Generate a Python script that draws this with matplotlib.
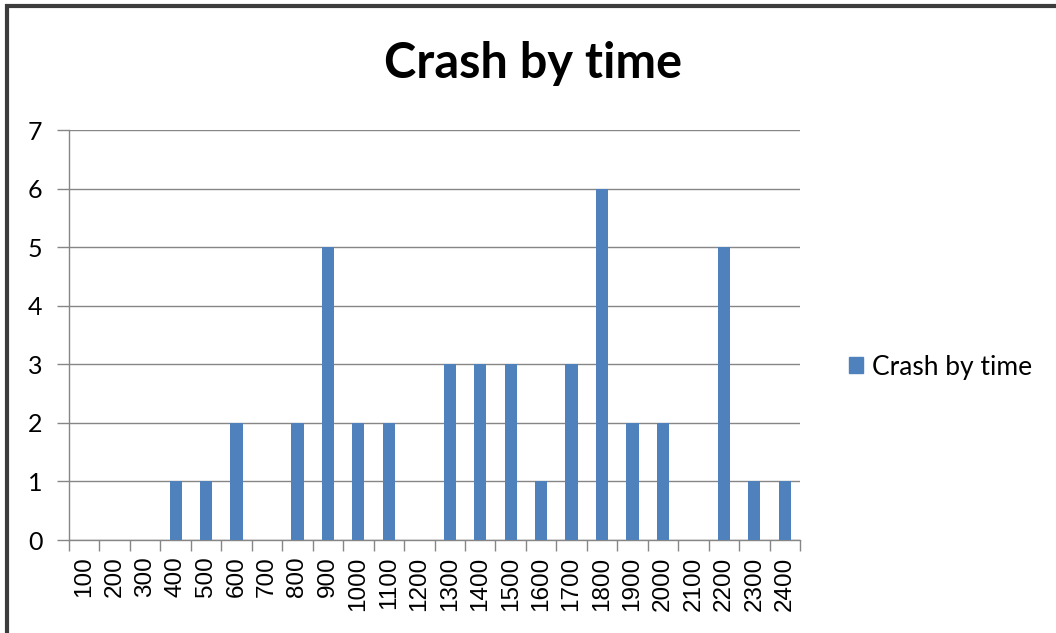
import matplotlib
matplotlib.use('Agg')
import matplotlib.pyplot as plt
from matplotlib.patches import Rectangle
import numpy as np

plt.rcParams['font.family'] = ['Lato', 'DejaVu Sans']

# Crash counts by hour of day
times = ['100', '200', '300', '400', '500', '600', '700', '800', '900', '1000',
         '1100', '1200', '1300', '1400', '1500', '1600', '1700', '1800', '1900',
         '2000', '2100', '2200', '2300', '2400']
crashes = [0, 0, 0, 1, 1, 2, 0, 2, 5, 2, 2, 0, 3, 3, 3, 1, 3, 6, 2, 2, 0, 5, 1, 1]

bar_color = '#4f81bd'
grid_color = '#868686'

W, H = 1056, 633
fig = plt.figure(figsize=(W / 100, H / 100), dpi=100)

# plot area in pixel coords: x 69..800, y 130..540
left, right, top, bottom = 69, 800, 130, 540
ax = fig.add_axes([left / W, 1 - bottom / H, (right - left) / W, (bottom - top) / H])

x = np.arange(len(times))
ax.bar(x, crashes, width=0.4, color=bar_color, zorder=3, label='Crash by time')

ax.set_xlim(-0.5, len(times) - 0.5)
ax.set_ylim(0, 7)
ax.set_yticks(range(8))
ax.yaxis.grid(True, color=grid_color, linewidth=1, zorder=0)
for s in ['top', 'right']:
    ax.spines[s].set_visible(False)
for s in ['left', 'bottom']:
    ax.spines[s].set_color(grid_color)
    ax.spines[s].set_linewidth(1)

# category boundary ticks on x, outside ticks on y
ax.set_xticks(np.arange(len(times) + 1) - 0.5, minor=False)
ax.set_xticklabels([])
ax.set_xticks(x, minor=True)
ax.set_xticklabels(times, minor=True, rotation=90, fontsize=17.5,
                   family=['Liberation Sans', 'DejaVu Sans'])
ax.tick_params(axis='x', which='major', length=8, color=grid_color, width=1)
ax.tick_params(axis='x', which='minor', length=0, pad=12)
ax.tick_params(axis='y', length=9, color=grid_color, width=1, labelsize=18, pad=10)

fig.text(533 / W, 1 - 63 / H, 'Crash by time', ha='center', va='center',
         fontsize=35, fontweight='bold')

fig.legend(handles=[Rectangle((0, 0), 1, 1, color=bar_color)], labels=['Crash by time'],
           loc='center left', bbox_to_anchor=(825 / W, 1 - 367 / H), frameon=False,
           fontsize=19, handlelength=0.55, handleheight=0.55, handletextpad=0.35)

# outer chart border
fig.patches.append(Rectangle((7 / W, -0.01), 1.0, 1 - 6 / H + 0.01, transform=fig.transFigure,
                             fill=False, edgecolor='#3c3c3c', linewidth=3))

fig.savefig('out.png', dpi=100)
